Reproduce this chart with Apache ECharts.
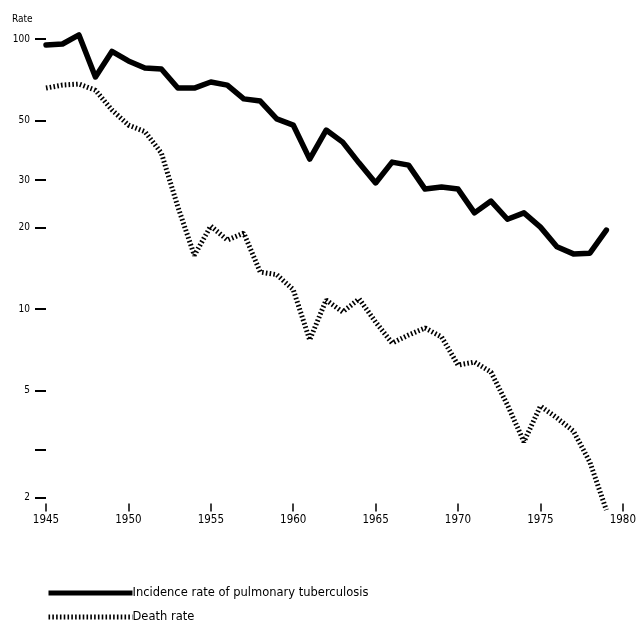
<!DOCTYPE html>
<html>
<head>
<meta charset="utf-8">
<script src="https://cdn.jsdelivr.net/npm/echarts@6/dist/echarts.min.js"></script>
<style>
  html, body { margin: 0; padding: 0; background: #fff; }
  #chart { width: 639px; height: 628px; }
</style>
</head>
<body>
<div id="chart"></div>
<script>
// Years 1945-1979
const years = [1945, 1946, 1947, 1948, 1949, 1950, 1951, 1952, 1953, 1954,
  1955, 1956, 1957, 1958, 1959, 1960, 1961, 1962, 1963, 1964,
  1965, 1966, 1967, 1968, 1969, 1970, 1971, 1972, 1973, 1974,
  1975, 1976, 1977, 1978, 1979];

// Incidence rate of pulmonary tuberculosis
const incidence = [95.0, 95.8, 103.5, 72.3, 89.9, 82.9, 78.1, 77.4, 65.8, 65.8,
  69.3, 67.5, 60.0, 58.9, 50.6, 48.0, 35.9, 46.0, 41.5, 34.7,
  29.3, 35.0, 34.1, 27.8, 28.3, 27.8, 22.7, 25.1, 21.5, 22.7,
  20.1, 17.0, 16.0, 16.1, 19.6];

// Death rate
const deaths = [65.8, 67.5, 68.1, 64.6, 54.6, 48.0, 45.4, 37.8, 23.9, 15.8,
  20.3, 18.0, 19.1, 13.7, 13.4, 11.8, 7.68, 10.8, 9.75, 10.9,
  8.95, 7.48, 8.01, 8.50, 7.88, 6.20, 6.36, 5.84, 4.41, 3.22,
  4.37, 3.95, 3.53, 2.71, 1.80];

// Rate axis (log scale) ticks and the ones that carry a printed label
const yTicks = [2, 3, 5, 10, 20, 30, 50, 100];
const yLabelled = [2, 5, 10, 20, 30, 50, 100];

const seriesNames = ['Incidence rate of pulmonary tuberculosis', 'Death rate'];

const FONT = '"DejaVu Sans Condensed", "Liberation Sans Narrow", "DejaVu Sans", sans-serif';

const pairs = (vals) => years.map((y, i) => [y, vals[i]]);

const chart = echarts.init(document.getElementById('chart'), null, { renderer: 'canvas' });

chart.setOption({
  backgroundColor: '#ffffff',
  animation: false,
  title: {
    text: 'Rate',
    left: 7,
    top: 9,
    textStyle: { fontFamily: FONT, fontSize: 10, fontWeight: 'normal', color: '#000' }
  },
  grid: { left: 46, right: 15.5, top: 25.5, bottom: 116.5, containLabel: false },
  xAxis: {
    type: 'value',
    min: 1945,
    max: 1980,
    interval: 5,
    splitLine: { show: false },
    axisLine: { show: false },
    axisTick: { show: true, inside: true, length: 8, lineStyle: { color: '#000', width: 1.5 } },
    axisLabel: {
      margin: 3,
      color: '#000',
      fontFamily: FONT,
      fontSize: 11.5,
      formatter: (v) => String(v)
    }
  },
  yAxis: {
    type: 'log',
    logBase: 10,
    min: 1.778,
    max: 112.2,
    splitLine: { show: false },
    axisLine: { show: false },
    axisTick: {
      show: true,
      length: 11,
      lineStyle: { color: '#000', width: 2 },
      customValues: yTicks
    },
    axisLabel: {
      margin: 16,
      color: '#000',
      fontFamily: FONT,
      fontSize: 10,
      customValues: yTicks,
      formatter: (v) => (yLabelled.some(t => Math.abs(t - v) < 1e-6) ? String(Math.round(v)) : '')
    }
  },
  legend: {
    orient: 'vertical',
    left: 46,
    top: 587,
    padding: 0,
    itemWidth: 84,
    itemHeight: 12,
    itemGap: 12,
    data: seriesNames,
    itemStyle: { opacity: 0 },
    lineStyle: { width: 5, cap: 'butt' },
    textStyle: { fontFamily: '"DejaVu Sans", sans-serif', fontSize: 11.5, color: '#000', padding: [0, 0, 0, -5] }
  },
  series: [
    {
      name: seriesNames[0],
      type: 'line',
      data: pairs(incidence),
      symbol: 'none',
      clip: false,
      lineStyle: { color: '#000', width: 5.5, join: 'round', cap: 'round' },
      itemStyle: { color: '#000' }
    },
    {
      name: seriesNames[1],
      type: 'line',
      data: pairs(deaths),
      symbol: 'none',
      clip: false,
      lineStyle: { color: '#000', width: 5, type: [1.6, 2.2], cap: 'butt' },
      itemStyle: { color: '#000' }
    }
  ]
});
</script>
</body>
</html>
